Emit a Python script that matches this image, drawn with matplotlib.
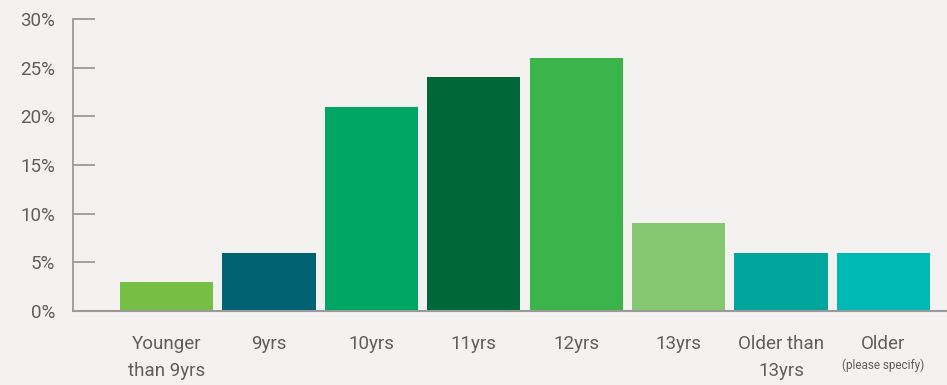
import matplotlib.pyplot as plt

categories = ["Younger\nthan 9yrs", "9yrs", "10yrs", "11yrs", "12yrs", "13yrs",
              "Older than\n13yrs", "Older"]
values = [3, 6, 21, 24, 26, 9, 6, 6]
colors = ["#76bf44", "#006272", "#00a664", "#006838", "#3bb54a", "#86c772",
          "#00a59d", "#00b8b4"]
yticks = [0, 5, 10, 15, 20, 25, 30]

plt.rcParams['font.family'] = ['Roboto', 'DejaVu Sans']

bg = "#f3f2f0"
txt = "#5e5e5e"
fig = plt.figure(figsize=(9.47, 3.85), dpi=100, facecolor=bg)
ax = fig.add_axes([73 / 947, (385 - 311) / 385, (947 - 73) / 947, (311 - 19) / 385])
ax.set_facecolor(bg)

x = range(len(values))
ax.bar(x, values, width=0.91, color=colors, zorder=2)

ax.set_xlim(-0.913, 7.62)
ax.set_ylim(0, 30)
ax.set_yticks(yticks)
ax.set_yticklabels([f"{v}%" for v in yticks], fontsize=13.5, color=txt)
ax.set_xticks(list(x))
ax.set_xticklabels(categories, fontsize=13.5, color=txt, linespacing=1.7, va="top")
ax.tick_params(axis="y", direction="in", length=16, width=1.3, color="#9a9a9a", pad=13)
ax.tick_params(axis="x", length=0, pad=17)
for s in ["top", "right"]:
    ax.spines[s].set_visible(False)
ax.spines["left"].set_color("#9a9a9a")
ax.spines["left"].set_linewidth(1.3)
ax.spines["bottom"].set_color("#9a9a9a")
ax.spines["bottom"].set_linewidth(1.5)
ax.spines["bottom"].set_zorder(3)

ax.text(7, -5.55, "(please specify)", fontsize=8.5, color=txt, ha="center", va="center")

fig.savefig("out.png", dpi=100, facecolor=bg)
